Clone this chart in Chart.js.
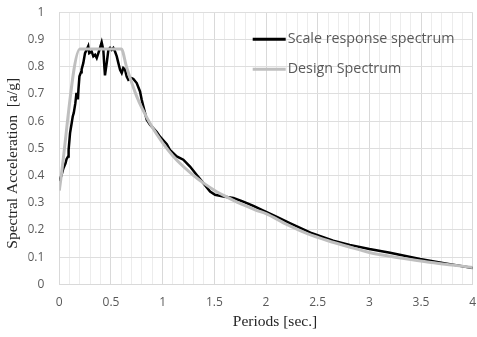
<!DOCTYPE html>
<html>
<head>
<meta charset="utf-8">
<script src="https://cdn.jsdelivr.net/npm/chart.js@4/dist/chart.umd.min.js"></script>
<style>
  html, body { margin: 0; padding: 0; background: #ffffff; }
  canvas { display: block; }
</style>
</head>
<body>
<canvas id="chart" width="477" height="337"></canvas>
<script>
// Series names
const seriesNames = ['Scale response spectrum', 'Design Spectrum'];

// Scaled record response spectrum: period (s) and spectral acceleration (g)
const scalePeriods = [
  0.00, 0.02, 0.04, 0.06, 0.07, 0.085, 0.09, 0.104, 0.12, 0.13, 0.14, 0.155, 0.165, 0.175, 0.18, 0.185,
  0.195, 0.21, 0.216, 0.232, 0.249, 0.265, 0.28, 0.29, 0.297, 0.313, 0.329, 0.346, 0.362, 0.378, 0.394,
  0.41, 0.426, 0.436, 0.442, 0.459, 0.475, 0.491, 0.507, 0.523, 0.539, 0.556, 0.571, 0.588, 0.604,
  0.619, 0.636, 0.652, 0.668, 0.70, 0.717, 0.749, 0.781, 0.797, 0.813, 0.846, 0.878, 0.943, 0.974,
  1.04, 1.07, 1.136, 1.20, 1.265, 1.33, 1.394, 1.459, 1.507, 1.588, 1.684, 1.78, 1.878, 1.975, 2.10,
  2.23, 2.43, 2.65, 2.81, 3.00, 3.20, 3.49, 3.75, 4.00
];
const scaleAccel = [
  0.380, 0.400, 0.427, 0.445, 0.460, 0.470, 0.494, 0.556, 0.593, 0.617, 0.630, 0.665, 0.700, 0.700, 0.680, 0.715,
  0.765, 0.780, 0.790, 0.813, 0.850, 0.862, 0.875, 0.850, 0.850, 0.856, 0.838, 0.844, 0.832, 0.850, 0.869,
  0.890, 0.862, 0.800, 0.768, 0.814, 0.862, 0.869, 0.862, 0.869, 0.856, 0.838, 0.814, 0.789, 0.777,
  0.795, 0.789, 0.764, 0.752, 0.758, 0.755, 0.740, 0.709, 0.679, 0.654, 0.605, 0.587, 0.560, 0.543,
  0.515, 0.494, 0.470, 0.458, 0.433, 0.402, 0.372, 0.341, 0.329, 0.323, 0.317, 0.304, 0.288, 0.271, 0.249,
  0.225, 0.190, 0.160, 0.145, 0.130, 0.116, 0.093, 0.076, 0.060
];

// Design spectrum: period (s) and spectral acceleration (g)
const designPeriods = [
  0.00, 0.20, 0.60, 0.65, 0.70, 0.75, 0.80, 0.90, 1.00, 1.10, 1.20, 1.30, 1.40, 1.50, 1.60, 1.70,
  1.80, 1.90, 2.00, 2.20, 2.40, 2.60, 2.80, 3.00, 3.20, 3.40, 3.60, 3.80, 4.00
];
const designAccel = [
  0.345, 0.865, 0.865, 0.800, 0.742, 0.690, 0.648, 0.577, 0.520, 0.472, 0.433, 0.400, 0.371, 0.346, 0.325, 0.306,
  0.289, 0.273, 0.260, 0.220, 0.186, 0.160, 0.138, 0.117, 0.103, 0.091, 0.080, 0.071, 0.062
];

// Axis ranges and tick spacing
const xRange = [0, 4];
const yRange = [0, 1];
const xMinorStep = 0.1;
const xLabelEvery = 5;   // label every 0.5 s
const yStep = 0.1;

const axisTitles = { x: 'Periods [sec.]', y: 'Spectral Acceleration  [a/g]' };

const toPoints = (xs, ys) => xs.map((x, i) => ({ x: x, y: ys[i] }));

const textGrey = '#595959';
const tickFont = { family: "'Open Sans', 'Liberation Sans', sans-serif", size: 12 };

// Draws the inset legend and the axis titles
const decorations = {
  id: 'decorations',
  afterDraw(chart) {
    const { ctx, chartArea: a } = chart;
    ctx.save();

    // legend, inside the plot at the upper right
    const x0 = a.right - 220, x1 = a.right - 187;
    const rows = [a.top + 27, a.top + 57];
    ctx.font = "14.3px 'Open Sans', 'Liberation Sans', sans-serif";
    ctx.textBaseline = 'middle';
    ctx.textAlign = 'left';
    chart.data.datasets.forEach((ds, i) => {
      const y = rows[i];
      ctx.strokeStyle = ds.borderColor;
      ctx.lineWidth = 3;
      ctx.beginPath();
      ctx.moveTo(x0, y);
      ctx.lineTo(x1, y);
      ctx.stroke();
      ctx.fillStyle = textGrey;
      ctx.fillText(ds.label, x1 + 2, y);
    });

    // axis titles
    ctx.fillStyle = '#262626';
    ctx.font = "15.5px 'Liberation Serif', 'Times New Roman', serif";
    ctx.textAlign = 'center';
    ctx.textBaseline = 'middle';
    ctx.fillText(axisTitles.x, (a.left + a.right) / 2 + 9, a.bottom + 38);

    ctx.translate(13, (a.top + a.bottom) / 2 + 15);
    ctx.rotate(-Math.PI / 2);
    ctx.fillText(axisTitles.y, 0, 0);
    ctx.restore();
  }
};

new Chart(document.getElementById('chart'), {
  type: 'line',
  data: {
    datasets: [
      {
        label: seriesNames[0],
        data: toPoints(scalePeriods, scaleAccel),
        borderColor: '#000000',
        borderWidth: 2.5,
        pointRadius: 0,
        fill: false,
        tension: 0,
        order: 1
      },
      {
        label: seriesNames[1],
        data: toPoints(designPeriods, designAccel),
        borderColor: '#bfbfbf',
        borderWidth: 3,
        pointRadius: 0,
        fill: false,
        cubicInterpolationMode: 'monotone',
        order: 0
      }
    ]
  },
  options: {
    responsive: false,
    animation: false,
    devicePixelRatio: 1,
    layout: { padding: { left: 28.3, right: 4.3, top: 12.3, bottom: 22.7 } },
    plugins: {
      legend: { display: false },
      tooltip: { enabled: false }
    },
    scales: {
      x: {
        type: 'linear',
        min: xRange[0],
        max: xRange[1],
        border: { color: '#d9d9d9' },
        grid: {
          drawTicks: false,
          color: c => (Math.round(c.tick.value / xMinorStep) % xLabelEvery === 0 ? '#d9d9d9' : '#ececec')
        },
        ticks: {
          stepSize: xMinorStep,
          maxTicksLimit: 1000,
          autoSkip: false,
          maxRotation: 0,
          padding: 11,
          color: textGrey,
          font: tickFont,
          callback: v => (Math.round(v / xMinorStep) % xLabelEvery === 0 ? String(Math.round(v * 10) / 10) : '')
        },
        afterFit: s => {
          s.height = 30;
          s.paddingLeft = 0;
          s.paddingRight = 0;
        }
      },
      y: {
        min: yRange[0],
        max: yRange[1],
        border: { color: '#d9d9d9' },
        grid: { drawTicks: false, color: '#dedede' },
        ticks: {
          stepSize: yStep,
          padding: 15,
          color: textGrey,
          font: tickFont,
          callback: v => String(Math.round(v * 10) / 10)
        },
        afterFit: s => {
          s.width = 31;
          s.paddingTop = 0;
          s.paddingBottom = 0;
        }
      }
    }
  },
  plugins: [decorations]
});
</script>
</body>
</html>
